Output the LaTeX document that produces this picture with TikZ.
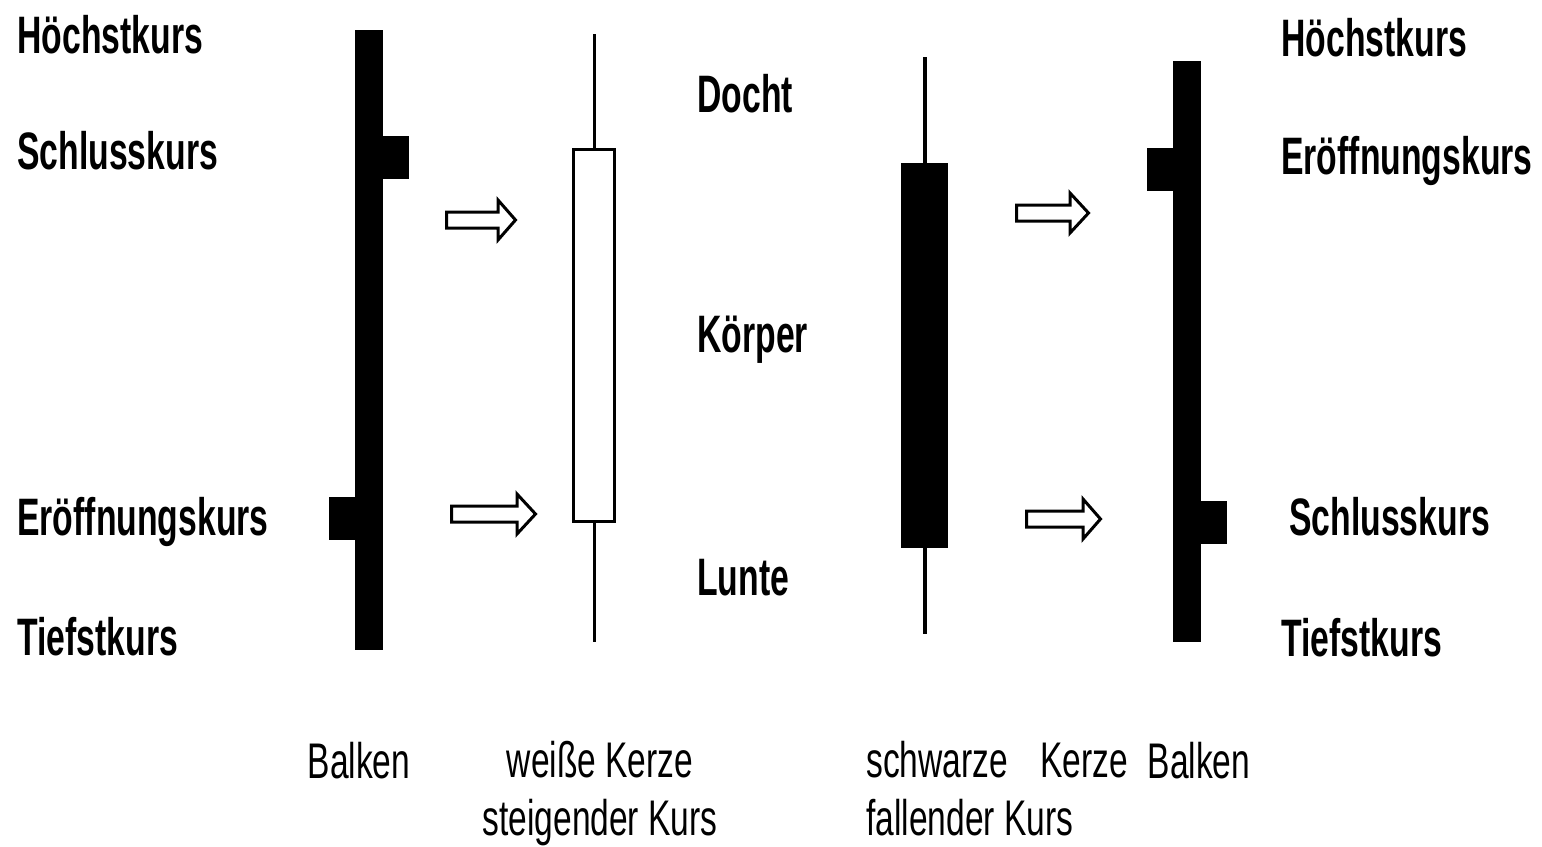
\documentclass[tikz,border=0pt]{standalone}
\usepackage{fontspec}
\newfontfamily\kursfont[FakeStretch=0.64]{Liberation Sans}
\newfontfamily\unterfont[FakeStretch=0.67]{Liberation Sans}

\tikzset{
  kurslabel/.style={anchor=base west, inner sep=0pt,
    font=\kursfont\bfseries\fontsize{30}{36}\selectfont},
  unterlabel/.style={inner sep=0pt,
    font=\unterfont\fontsize{28.5}{33}\selectfont},
  balken/.style={fill=black, inner sep=0pt, outer sep=0pt, minimum width=0.56cm},
  tick/.style={fill=black, inner sep=0pt, outer sep=0pt,
    minimum width=0.56cm, minimum height=0.86cm},
  wick/.style={line width=0.06cm},
  pfeil/.style={line width=0.06cm, fill=white}
}

% hollow block arrow: start x, head x, tip x, centre y
\newcommand\kurspfeil[4]{%
  \draw[pfeil] (#1,#4-8) -- (#2,#4-8) -- (#2,#4-20) -- (#3,#4)
    -- (#2,#4+20) -- (#2,#4+8) -- (#1,#4+8) -- cycle;}

\begin{document}
\begin{tikzpicture}[x=0.02cm, y=-0.02cm]
  \useasboundingbox (0,0) rectangle (1542,846);

  % Balken (steigend)
  \node[balken, minimum height=12.4cm] (lbar) at (369,340) {};
  \node[tick, anchor=west, xshift=-0.04cm] (lclose) at (lbar.east |- 0,157.5) {};
  \node[tick, anchor=east, xshift=0.04cm] (lopen) at (lbar.west |- 0,518.5) {};

  % weisse Kerze
  \node[draw, line width=0.06cm, fill=white, inner sep=0pt,
        minimum width=0.82cm, minimum height=7.44cm] (wbody) at (594,335.5) {};
  \coordinate (whigh) at (594,34);
  \coordinate (wlow) at (594,642);
  \draw[wick] (whigh) -- (wbody.north);
  \draw[wick] (wbody.south) -- (wlow);

  % schwarze Kerze
  \node[fill=black, inner sep=0pt, outer sep=0pt,
        minimum width=0.94cm, minimum height=7.7cm] (sbody) at (924.5,355.5) {};
  \coordinate (shigh) at (924.5,57);
  \coordinate (slow) at (924.5,634);
  \draw[wick, line width=0.08cm] (shigh) -- (sbody.north);
  \draw[wick, line width=0.08cm] (sbody.south) -- (slow);

  % Balken (fallend)
  \node[balken, minimum height=11.62cm] (rbar) at (1187,351.5) {};
  \node[tick, anchor=east, xshift=0.04cm] (ropen) at (rbar.west |- 0,169) {};
  \node[tick, anchor=west, xshift=-0.04cm] (rclose) at (rbar.east |- 0,522.5) {};

  % Pfeile
  \kurspfeil{446.5}{498}{515.5}{220}
  \kurspfeil{451.5}{517}{535.5}{514}
  \kurspfeil{1016.5}{1070}{1088.5}{213}
  \kurspfeil{1026.5}{1083}{1100.5}{519}

  % Beschriftung links
  \node[kurslabel] (lhigh) at (17,53) {Höchstkurs};
  \node[kurslabel] (lclosetxt) at (17,169) {Schlusskurs};
  \node[kurslabel] (lopentxt) at (17,535) {Eröffnungskurs};
  \node[kurslabel] (llow) at (17,655) {Tiefstkurs};

  % Beschriftung Mitte
  \node[kurslabel] (docht) at (697,112) {Docht};
  \node[kurslabel] (koerper) at (697,352) {Körper};
  \node[kurslabel] (lunte) at (697,595) {Lunte};

  % Beschriftung rechts
  \node[kurslabel] (rhigh) at (1281,56) {Höchstkurs};
  \node[kurslabel] (ropentxt) at (1281,174) {Eröffnungskurs};
  \node[kurslabel] (rclosetxt) at (1289,535) {Schlusskurs};
  \node[kurslabel] (rlow) at (1281,656) {Tiefstkurs};

  % Unterschriften
  \node[unterlabel, anchor=base] (lname) at (359,778) {Balken};
  \node[unterlabel, anchor=north, align=center] (wname) at (600,741)
    {weiße Kerze\\steigender Kurs};
  \node[unterlabel, anchor=north west, align=left] (sname) at (866,741)
    {schwarze\hspace{0.65cm}Kerze\\fallender Kurs};
  \node[unterlabel, anchor=base] (rname) at (1199,778) {Balken};
\end{tikzpicture}
\end{document}
